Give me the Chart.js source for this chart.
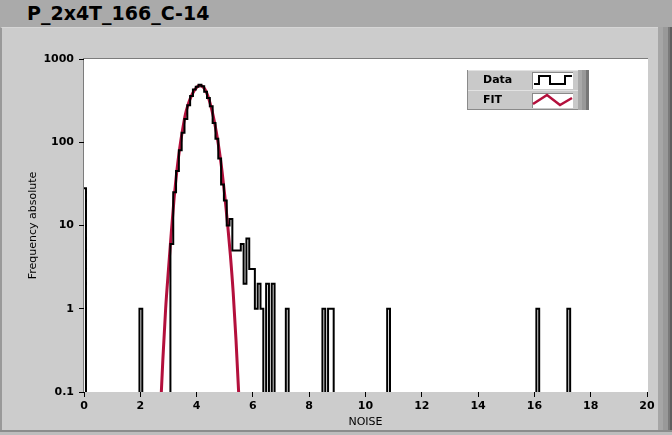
<!DOCTYPE html>
<html>
<head>
<meta charset="utf-8">
<script src="https://cdn.jsdelivr.net/npm/chart.js@4.4.0/dist/chart.umd.min.js"></script>
<style>
  html, body { margin: 0; padding: 0; }
  body { width: 672px; height: 435px; overflow: hidden; position: relative; background: #aaaaaa;
         font-family: "DejaVu Sans", Verdana, sans-serif; }
  #title { position: absolute; left: 27px; top: 2px; font-size: 19px; font-weight: bold; color: #000; }
  #panel { position: absolute; left: 0; top: 27px; width: 658px; height: 403px; background: #cccccc;
           border-left: 2px solid #999; border-top: 1px solid #d6d6d6; box-sizing: border-box; }
  #bottom { position: absolute; left: 0; top: 430px; width: 672px; height: 5px; background: #bdbdbd;
            border-top: 2px solid #8c8c8c; box-sizing: border-box; }
  .stripe { position: absolute; top: 27px; height: 408px; }
  canvas { position: absolute; left: 0; top: 0; }
</style>
</head>
<body>
<div id="title">P_2x4T_166_C-14</div>
<div id="panel"></div>
<div class="stripe" style="left:658px;width:5px;background:#a6a6a6"></div>
<div class="stripe" style="left:663px;width:5px;background:#999999"></div>
<div class="stripe" style="left:668px;width:2px;background:#7a7a7a"></div>
<div class="stripe" style="left:670px;width:2px;background:#5e5e5e"></div>
<div id="bottom"></div>
<canvas id="chart" width="672" height="435"></canvas>
<script>
// histogram bins (left edge, width 0.1) that are not empty
const binWidth = 0.1;
const binLeft = [-0.03, 1.97, 3.07, 3.17, 3.27, 3.37, 3.47, 3.57, 3.67, 3.77, 3.87, 3.97, 4.07, 4.17,
  4.27, 4.37, 4.47, 4.57, 4.67, 4.77, 4.87, 4.97, 5.07, 5.17, 5.27, 5.37, 5.47, 5.57, 5.67, 5.77,
  5.87, 5.97, 6.07, 6.17, 6.27, 6.47, 6.67, 7.17, 8.47, 8.67, 8.77, 10.77, 16.07, 17.17];
const binCount = [28, 1, 6, 25, 45, 80, 130, 190, 278, 360, 430, 465, 490, 470,
  403, 340, 270, 170, 110, 64, 31, 20, 10, 12, 5, 5, 5, 6, 2, 7,
  3, 3, 1, 2, 1, 2, 2, 1, 1, 1, 1, 1, 1, 1];

// fit curve
const fitX = [2.7, 2.8, 2.9, 3.0, 3.1, 3.2, 3.3, 3.4, 3.5, 3.6, 3.7, 3.8, 3.9, 4.0, 4.1, 4.2, 4.3,
  4.4, 4.5, 4.6, 4.7, 4.8, 4.9, 5.0, 5.1, 5.2, 5.3, 5.4, 5.5, 5.6];
const fitY = [0.045, 0.24, 1.0, 2.95, 8.1, 21, 46, 85, 140, 215, 285, 350, 410, 455, 480, 470, 430,
  360, 278, 200, 133, 82, 46, 23, 10.5, 4.4, 1.56, 0.42, 0.09, 0.015];

const xTicks = [0, 2, 4, 6, 8, 10, 12, 14, 16, 18, 20];
const yTicks = [0.1, 1, 10, 100, 1000];

const EMPTY = 0.01; // below the axis minimum, so empty bins drop out of view
const FONT = '"DejaVu Sans", Verdana, sans-serif';

// step points: value holds from the bin's left edge to the next point
function buildSteps() {
  const pts = [];
  for (let i = 0; i < binLeft.length; i++) {
    pts.push({ x: binLeft[i], y: binCount[i] });
    const end = binLeft[i] + binWidth;
    const next = binLeft[i + 1];
    if (next === undefined || Math.abs(next - end) > 0.001) {
      pts.push({ x: end, y: EMPTY });
    }
  }
  return pts;
}

const plotBackground = {
  id: 'plotBackground',
  beforeDraw(chart) {
    const { ctx, chartArea: a } = chart;
    ctx.save();
    ctx.fillStyle = '#ffffff';
    ctx.fillRect(a.left - 1, a.top, a.right - a.left + 2, a.bottom - a.top);
    ctx.fillStyle = '#7c7c7c';
    ctx.fillRect(a.left - 1, a.top - 1, a.right - a.left + 2, 1);
    ctx.fillRect(a.left - 1, a.top - 1, 1, a.bottom - a.top + 1);
    ctx.restore();
  }
};

const legendBox = {
  id: 'legendBox',
  afterDraw(chart) {
    const ctx = chart.ctx;
    const a = chart.chartArea;
    const x0 = a.right - 180, y0 = a.top + 11;
    ctx.save();
    ctx.fillStyle = '#c9c9c9';
    ctx.fillRect(x0, y0, 111, 40);
    ctx.fillStyle = '#8a8a8a';
    ctx.fillRect(x0, y0, 1, 40);
    ctx.fillRect(x0, y0 + 39, 111, 1);
    ctx.fillStyle = '#e2e2e2';
    ctx.fillRect(x0 + 1, y0, 110, 1);
    ctx.fillRect(x0 + 1, y0 + 20, 110, 1);
    ctx.fillStyle = '#a9a9a9'; ctx.fillRect(x0 + 111, y0, 4, 40);
    ctx.fillStyle = '#999999'; ctx.fillRect(x0 + 115, y0, 4, 40);
    ctx.fillStyle = '#777777'; ctx.fillRect(x0 + 119, y0, 3, 40);

    ctx.fillStyle = '#000';
    ctx.font = 'bold 11px ' + FONT;
    ctx.textBaseline = 'middle';
    ctx.fillText('Data', x0 + 16, y0 + 10);
    ctx.fillText('FIT', x0 + 16, y0 + 30);

    // icon boxes
    const bx = x0 + 65, bw = 41;
    [[y0 + 2, 17], [y0 + 23, 15]].forEach(([by, bh]) => {
      ctx.fillStyle = '#ffffff';
      ctx.fillRect(bx, by, bw, bh);
      ctx.fillStyle = '#8a8a8a';
      ctx.fillRect(bx, by, bw, 1);
      ctx.fillRect(bx, by, 1, bh);
    });
    ctx.strokeStyle = '#000';
    ctx.lineWidth = 2;
    ctx.beginPath();
    ctx.moveTo(bx + 2, y0 + 14);
    ctx.lineTo(bx + 7, y0 + 14); ctx.lineTo(bx + 7, y0 + 6);
    ctx.lineTo(bx + 18, y0 + 6); ctx.lineTo(bx + 18, y0 + 14);
    ctx.lineTo(bx + 33, y0 + 14); ctx.lineTo(bx + 33, y0 + 6);
    ctx.lineTo(bx + 40, y0 + 6);
    ctx.stroke();
    ctx.strokeStyle = '#b3103c';
    ctx.lineWidth = 2.5;
    ctx.beginPath();
    ctx.moveTo(bx + 1, y0 + 34);
    ctx.lineTo(bx + 15, y0 + 25);
    ctx.lineTo(bx + 28, y0 + 35);
    ctx.lineTo(bx + 40, y0 + 28);
    ctx.stroke();
    ctx.restore();
  }
};

new Chart(document.getElementById('chart'), {
  type: 'line',
  data: {
    datasets: [
      {
        label: 'Data',
        data: buildSteps(),
        stepped: 'before',
        borderColor: '#000000',
        borderWidth: 2,
        pointRadius: 0,
        fill: false,
        clip: { left: 0, top: 2, right: 0, bottom: 0 }
      },
      {
        label: 'FIT',
        data: fitX.map((x, i) => ({ x: x, y: fitY[i] })),
        borderColor: '#b3103c',
        borderWidth: 3,
        pointRadius: 0,
        cubicInterpolationMode: 'monotone',
        fill: false,
        clip: { left: 0, top: 2, right: 0, bottom: 0 }
      }
    ]
  },
  options: {
    responsive: false,
    animation: false,
    devicePixelRatio: 1,
    layout: { padding: { left: 0, top: 59, right: 25, bottom: 0 } },
    plugins: { legend: { display: false }, tooltip: { enabled: false } },
    scales: {
      x: {
        type: 'linear',
        min: 0,
        max: 20,
        afterBuildTicks: s => { s.ticks = xTicks.map(v => ({ value: v })); },
        afterFit: s => { s.height = 43; },
        ticks: { color: '#000', padding: 3, maxRotation: 0, autoSkip: false,
                 font: { family: FONT, size: 11, weight: 'bold' } },
        grid: { drawOnChartArea: false, tickLength: 5, color: '#000' },
        border: { display: false },
        title: { display: true, text: 'NOISE', color: '#000',
                 font: { family: FONT, size: 11 }, padding: { top: 0, bottom: 6 } }
      },
      y: {
        type: 'logarithmic',
        min: 0.1,
        max: 1000,
        afterBuildTicks: s => { s.ticks = yTicks.map(v => ({ value: v })); },
        afterFit: s => { s.width = 84; },
        ticks: { color: '#000', padding: 5, autoSkip: false,
                 callback: v => String(v),
                 font: { family: FONT, size: 11, weight: 'bold' } },
        grid: { drawOnChartArea: false, tickLength: 5, color: '#000' },
        border: { display: false },
        title: { display: true, text: 'Frequency absolute', color: '#000',
                 font: { family: FONT, size: 11 }, padding: { top: 27, bottom: 0 } }
      }
    }
  },
  plugins: [plotBackground, legendBox]
});
</script>
</body>
</html>
